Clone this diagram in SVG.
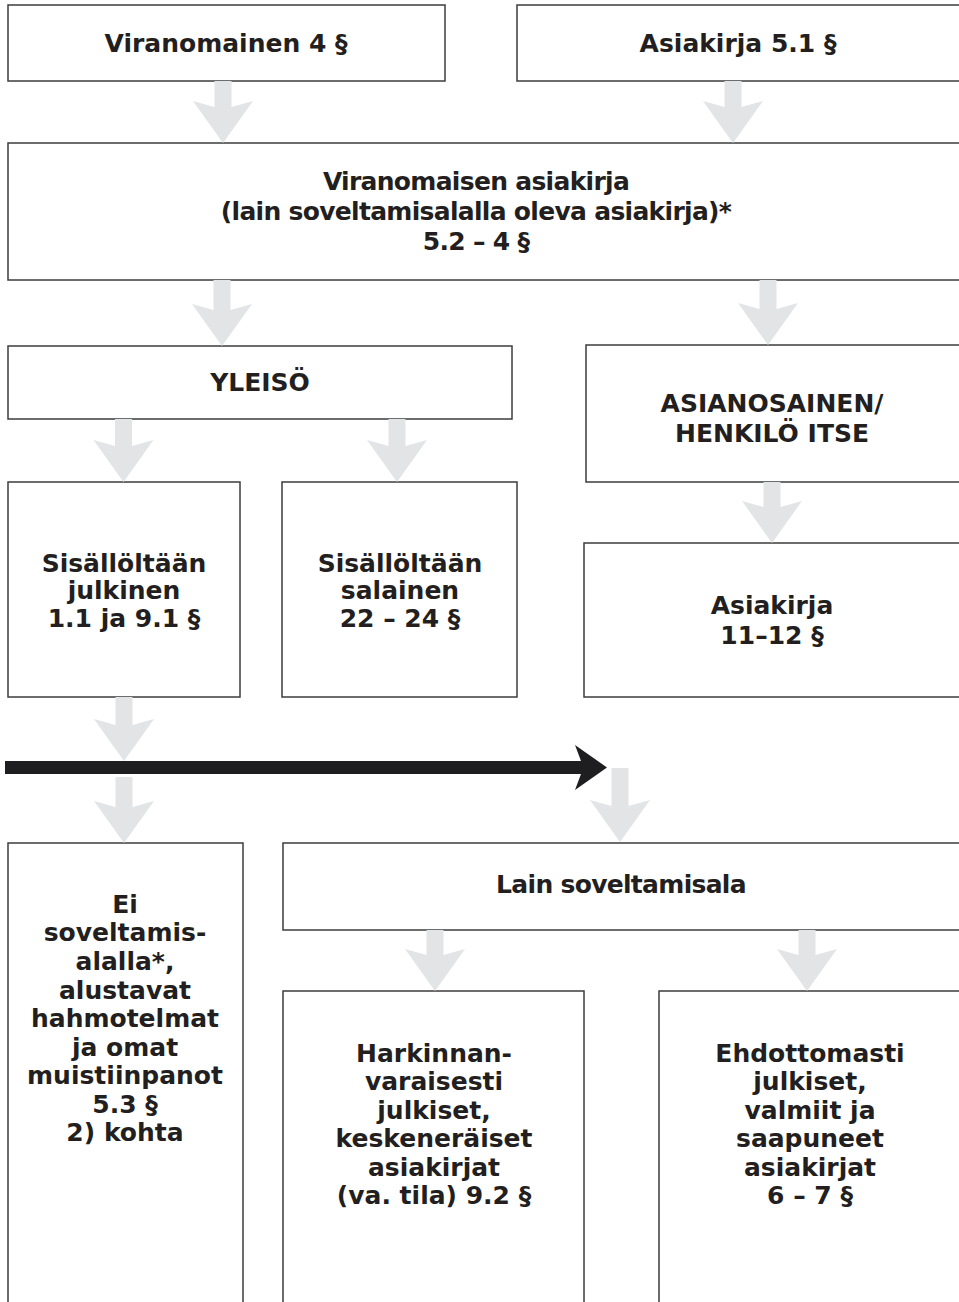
<svg xmlns="http://www.w3.org/2000/svg" width="959" height="1302" viewBox="0 0 959 1302">
<style>
  .box { fill: #ffffff; stroke: #3c3c3c; stroke-width: 1.5; }
  .t { font-family: "DejaVu Sans", "Liberation Sans", sans-serif; font-weight: bold; font-size: 25px; fill: #231f20; text-anchor: middle; }
  .nar { letter-spacing: -0.7px; }
  .ga { fill: #e3e4e6; }
  .ba { fill: #1e1e20; }
</style>
<rect x="0" y="0" width="959" height="1302" fill="#ffffff"/>

<g id="n-viranomainen">
  <rect class="box" x="8" y="5" width="437" height="76"/>
  <text class="t" x="226" y="52">Viranomainen 4 §</text>
</g>
<g id="n-asiakirja51">
  <rect class="box" x="517" y="5" width="460" height="76"/>
  <text class="t" x="738" y="52">Asiakirja 5.1 §</text>
</g>
<g id="n-viranomaisen-asiakirja">
  <rect class="box" x="8" y="143" width="970" height="137"/>
  <text class="t nar" x="476" y="190">Viranomaisen asiakirja</text>
  <text class="t nar" x="476" y="220">(lain soveltamisalalla oleva asiakirja)*</text>
  <text class="t nar" x="476" y="250">5.2 – 4 §</text>
</g>
<g id="n-yleiso">
  <rect class="box" x="8" y="346" width="504" height="73"/>
  <text class="t" x="260" y="391">YLEISÖ</text>
</g>
<g id="n-asianosainen">
  <rect class="box" x="586" y="345" width="390" height="137"/>
  <text class="t" x="772" y="412">ASIANOSAINEN/</text>
  <text class="t" x="772" y="442">HENKILÖ ITSE</text>
</g>
<g id="n-julkinen">
  <rect class="box" x="8" y="482" width="232" height="215"/>
  <text class="t" x="124" y="572">Sisällöltään</text>
  <text class="t" x="124" y="599">julkinen</text>
  <text class="t" x="124" y="627">1.1 ja 9.1 §</text>
</g>
<g id="n-salainen">
  <rect class="box" x="282" y="482" width="235" height="215"/>
  <text class="t" x="400" y="572">Sisällöltään</text>
  <text class="t" x="400" y="599">salainen</text>
  <text class="t" x="400" y="627">22 – 24 §</text>
</g>
<g id="n-asiakirja1112">
  <rect class="box" x="584" y="543" width="392" height="154"/>
  <text class="t" x="772" y="614">Asiakirja</text>
  <text class="t" x="772" y="644">11–12 §</text>
</g>
<g id="n-ei-soveltamisalalla">
  <rect class="box" x="8" y="843" width="235" height="480"/>
  <text class="t" x="125" y="913">Ei</text>
  <text class="t" x="125" y="941">soveltamis-</text>
  <text class="t" x="125" y="970">alalla*,</text>
  <text class="t" x="125" y="999">alustavat</text>
  <text class="t" x="125" y="1027">hahmotelmat</text>
  <text class="t" x="125" y="1056">ja omat</text>
  <text class="t" x="125" y="1084">muistiinpanot</text>
  <text class="t" x="125" y="1113">5.3 §</text>
  <text class="t" x="125" y="1141">2) kohta</text>
</g>
<g id="n-lain-soveltamisala">
  <rect class="box" x="283" y="843" width="695" height="87"/>
  <text class="t nar" x="621" y="893">Lain soveltamisala</text>
</g>
<g id="n-harkinnanvaraisesti">
  <rect class="box" x="283" y="991" width="301" height="330"/>
  <text class="t" x="434" y="1062">Harkinnan-</text>
  <text class="t" x="434" y="1090">varaisesti</text>
  <text class="t" x="434" y="1119">julkiset,</text>
  <text class="t" x="434" y="1147">keskeneräiset</text>
  <text class="t" x="434" y="1176">asiakirjat</text>
  <text class="t" x="434" y="1204">(va. tila) 9.2 §</text>
</g>
<g id="n-ehdottomasti">
  <rect class="box" x="659" y="991" width="320" height="330"/>
  <text class="t" x="810" y="1062">Ehdottomasti</text>
  <text class="t" x="810" y="1090">julkiset,</text>
  <text class="t" x="810" y="1119">valmiit ja</text>
  <text class="t" x="810" y="1147">saapuneet</text>
  <text class="t" x="810" y="1176">asiakirjat</text>
  <text class="t" x="810" y="1204">6 – 7 §</text>
</g>

<g id="connectors">
  <path class="ga" d="M214.5,81 H231.5 V107 L253,101 L223,143 L193,101 L214.5,107 Z"/>
  <path class="ga" d="M724.5,81 H741.5 V107 L763,101 L733,143 L703,101 L724.5,107 Z"/>
  <path class="ga" d="M213.5,280 H230.5 V310 L252,304 L222,346 L192,304 L213.5,310 Z"/>
  <path class="ga" d="M759.5,280 H776.5 V309 L798,303 L768,345 L738,303 L759.5,309 Z"/>
  <path class="ga" d="M115,419 H132 V446 L153.5,440 L123.5,482 L93.5,440 L115,446 Z"/>
  <path class="ga" d="M388.5,419 H405.5 V446 L427,440 L397,482 L367,440 L388.5,446 Z"/>
  <path class="ga" d="M763.5,482 H780.5 V507 L802,501 L772,543 L742,501 L763.5,507 Z"/>
  <path class="ga" d="M115.5,697 H132.5 V725 L154,719 L124,761 L94,719 L115.5,725 Z"/>
  <path class="ga" d="M115.5,777 H132.5 V807 L154,801 L124,843 L94,801 L115.5,807 Z"/>
  <path class="ga" d="M611.5,768 H628.5 V806 L650,800 L620,842 L590,800 L611.5,806 Z"/>
  <path class="ga" d="M426.5,930 H443.5 V955 L465,949 L435,991 L405,949 L426.5,955 Z"/>
  <path class="ga" d="M798.5,930 H815.5 V955 L837,949 L807,991 L777,949 L798.5,955 Z"/>
  <path class="ba" d="M5,761 H581 L575,745 L607,767.5 L575,790 L581,774 H5 Z"/>
</g>
</svg>
